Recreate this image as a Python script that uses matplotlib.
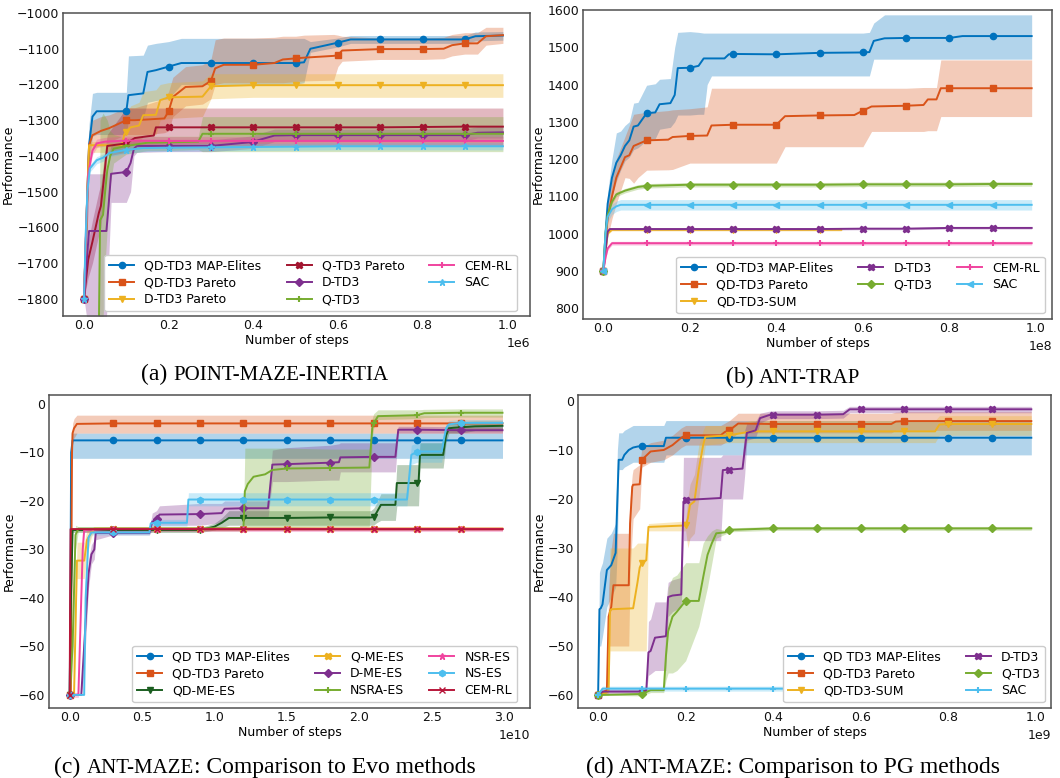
import numpy as np
import matplotlib
matplotlib.use('Agg')
import matplotlib.pyplot as plt
from matplotlib.ticker import MultipleLocator

# ---------------- colours ----------------
C_BLUE = '#0072BD'
C_ORANGE = '#D95319'
C_YELLOW = '#EDB120'
C_PURPLE = '#7E2F8E'
C_GREEN = '#77AC30'
C_LBLUE = '#4DBEEE'
C_DRED = '#A2142F'
C_PINK = '#F0449F'
C_DGREEN = '#1B5E20'
C_CRIMSON = '#B8163A'

# ---------------- panel (a): POINT-MAZE-INERTIA (x in 1e6 steps) ----------------
A_SCALE = 1e6
A_MAPE_X = [0, 0.008, 0.012, 0.02, 0.03, 0.1, 0.105, 0.14, 0.15, 0.17, 0.2, 0.23, 0.3, 0.4, 0.5, 0.52, 0.535, 0.6, 0.63, 0.7, 0.8, 0.9, 0.925, 0.99]
A_MAPE_Y = [-1800, -1500, -1370, -1290, -1275, -1275, -1230, -1225, -1165, -1160, -1150, -1140, -1140, -1140, -1140, -1138, -1100, -1083, -1074, -1074, -1074, -1074, -1065, -1063]
A_MAPE_LO = [-1800, -1600, -1420, -1345, -1340, -1340, -1300, -1295, -1250, -1245, -1240, -1200, -1200, -1200, -1200, -1195, -1110, -1095, -1085, -1085, -1085, -1085, -1078, -1076]
A_MAPE_HI = [-1800, -1400, -1310, -1225, -1222, -1222, -1120, -1118, -1090, -1085, -1080, -1071, -1071, -1071, -1071, -1071, -1080, -1070, -1063, -1063, -1063, -1063, -1053, -1052]

A_PAR_X = [0, 0.008, 0.012, 0.02, 0.04, 0.06, 0.1, 0.12, 0.15, 0.19, 0.2, 0.21, 0.24, 0.28, 0.3, 0.31, 0.33, 0.4, 0.45, 0.47, 0.5, 0.52, 0.59, 0.6, 0.61, 0.7, 0.8, 0.85, 0.87, 0.9, 0.93, 0.95, 0.99]
A_PAR_Y = [-1800, -1500, -1370, -1342, -1330, -1322, -1300, -1300, -1298, -1295, -1275, -1235, -1207, -1205, -1190, -1155, -1145, -1145, -1140, -1130, -1127, -1125, -1120, -1118, -1105, -1101, -1101, -1100, -1090, -1085, -1085, -1065, -1062]
A_PAR_LO = [-1800, -1600, -1420, -1380, -1370, -1360, -1340, -1340, -1340, -1335, -1330, -1290, -1260, -1255, -1240, -1200, -1195, -1195, -1195, -1195, -1192, -1190, -1188, -1150, -1135, -1130, -1130, -1128, -1120, -1115, -1115, -1090, -1085]
A_PAR_HI = [-1800, -1400, -1330, -1300, -1290, -1285, -1265, -1265, -1255, -1240, -1220, -1180, -1150, -1145, -1130, -1075, -1070, -1070, -1068, -1065, -1065, -1062, -1060, -1062, -1065, -1070, -1070, -1068, -1060, -1055, -1055, -1040, -1040]

A_DP_X = [0, 0.008, 0.012, 0.09, 0.095, 0.1, 0.11, 0.13, 0.14, 0.17, 0.18, 0.2, 0.28, 0.3, 0.4, 0.5, 0.6, 0.7, 0.8, 0.9, 0.99]
A_DP_Y = [-1800, -1500, -1370, -1370, -1340, -1332, -1320, -1315, -1286, -1285, -1244, -1236, -1234, -1205, -1202, -1202, -1202, -1202, -1202, -1202, -1202]
A_DP_LO = [-1800, -1600, -1390, -1390, -1380, -1375, -1370, -1365, -1345, -1340, -1300, -1295, -1290, -1240, -1236, -1236, -1236, -1236, -1236, -1236, -1236]
A_DP_HI = [-1800, -1400, -1360, -1360, -1290, -1285, -1260, -1250, -1220, -1215, -1200, -1195, -1190, -1170, -1170, -1170, -1170, -1170, -1170, -1170, -1170]

A_QP_X = [0, 0.01, 0.02, 0.035, 0.04, 0.05, 0.055, 0.1, 0.12, 0.15, 0.165, 0.17, 0.2, 0.3, 0.4, 0.5, 0.6, 0.7, 0.8, 0.9, 0.99]
A_QP_Y = [-1800, -1690, -1640, -1560, -1540, -1430, -1372, -1365, -1350, -1345, -1343, -1320, -1320, -1320, -1320, -1320, -1320, -1320, -1319, -1318, -1318]
A_QP_LO = [-1800, -1740, -1700, -1620, -1600, -1480, -1400, -1390, -1380, -1378, -1376, -1373, -1373, -1373, -1373, -1373, -1373, -1373, -1373, -1373, -1373]
A_QP_HI = [-1800, -1640, -1580, -1500, -1480, -1380, -1340, -1266, -1266, -1266, -1266, -1266, -1266, -1266, -1266, -1266, -1266, -1266, -1266, -1266, -1266]

A_D_X = [0, 0.006, 0.012, 0.053, 0.058, 0.064, 0.1, 0.11, 0.118, 0.125, 0.2, 0.3, 0.39, 0.4, 0.45, 0.5, 0.6, 0.7, 0.8, 0.9, 0.93, 0.99]
A_D_Y = [-1800, -1700, -1610, -1610, -1540, -1450, -1445, -1420, -1380, -1372, -1372, -1372, -1362, -1360, -1343, -1342, -1342, -1342, -1342, -1342, -1335, -1334]
A_D_LO = [-1800, -1850, -1860, -1860, -1700, -1530, -1530, -1500, -1400, -1390, -1388, -1388, -1380, -1378, -1360, -1358, -1358, -1358, -1358, -1358, -1350, -1350]
A_D_HI = [-1800, -1600, -1450, -1450, -1400, -1370, -1360, -1360, -1355, -1355, -1355, -1355, -1345, -1342, -1325, -1325, -1325, -1325, -1325, -1325, -1318, -1318]

A_Q_X = [0, 0.035, 0.038, 0.045, 0.05, 0.055, 0.062, 0.07, 0.1, 0.15, 0.2, 0.27, 0.28, 0.3, 0.4, 0.5, 0.6, 0.7, 0.8, 0.9, 0.99]
A_Q_Y = [-1900, -1900, -1580, -1565, -1500, -1440, -1400, -1380, -1372, -1363, -1362, -1360, -1338, -1338, -1338, -1338, -1338, -1338, -1338, -1338, -1338]
A_Q_LO = [-1950, -1950, -1860, -1860, -1700, -1600, -1480, -1420, -1395, -1385, -1385, -1382, -1388, -1388, -1388, -1388, -1388, -1388, -1388, -1388, -1388]
A_Q_HI = [-1850, -1850, -1300, -1280, -1290, -1300, -1330, -1340, -1350, -1345, -1345, -1345, -1290, -1290, -1290, -1290, -1290, -1290, -1290, -1290, -1290]

A_CEM_X = [0, 0.005, 0.01, 0.02, 0.03, 0.05, 0.1, 0.2, 0.3, 0.4, 0.5, 0.6, 0.7, 0.8, 0.9, 0.99]
A_CEM_Y = [-1800, -1600, -1450, -1385, -1365, -1360, -1357, -1358, -1358, -1358, -1358, -1358, -1358, -1358, -1358, -1358]
A_CEM_W = 12

A_SAC_X = [0, 0.004, 0.008, 0.014, 0.03, 0.045, 0.06, 0.1, 0.14, 0.2, 0.3, 0.4, 0.5, 0.6, 0.7, 0.8, 0.9, 0.99]
A_SAC_Y = [-1800, -1620, -1500, -1435, -1412, -1405, -1392, -1383, -1378, -1377, -1376, -1375, -1374, -1373, -1373, -1373, -1373, -1373]
A_SAC_W = 10

# ---------------- panel (b): ANT-TRAP (x in 1e8 steps) ----------------
B_SCALE = 1e8
B_MAPE_X = [0, 0.005, 0.01, 0.02, 0.03, 0.04, 0.05, 0.06, 0.07, 0.08, 0.1, 0.12, 0.13, 0.155, 0.165, 0.172, 0.2, 0.22, 0.232, 0.24, 0.25, 0.28, 0.29, 0.3, 0.4, 0.5, 0.6, 0.615, 0.625, 0.65, 0.7, 0.8, 0.83, 0.9, 0.99]
B_MAPE_Y = [900, 1000, 1080, 1150, 1190, 1210, 1235, 1250, 1287, 1290, 1323, 1325, 1347, 1350, 1372, 1444, 1445, 1450, 1470, 1470, 1470, 1470, 1481, 1482, 1481, 1485, 1486, 1487, 1517, 1524, 1525, 1525, 1530, 1530, 1530]
B_MAPE_LO = [900, 960, 1040, 1100, 1140, 1170, 1195, 1205, 1225, 1230, 1250, 1255, 1280, 1285, 1300, 1318, 1318, 1320, 1320, 1400, 1423, 1423, 1423, 1423, 1423, 1423, 1423, 1423, 1468, 1468, 1468, 1468, 1468, 1468, 1468]
B_MAPE_HI = [900, 1040, 1110, 1200, 1270, 1275, 1290, 1300, 1350, 1352, 1398, 1402, 1414, 1416, 1500, 1540, 1542, 1540, 1538, 1538, 1538, 1538, 1538, 1538, 1538, 1538, 1538, 1540, 1565, 1587, 1587, 1587, 1587, 1587, 1587]

B_PAR_X = [0, 0.005, 0.01, 0.02, 0.03, 0.05, 0.06, 0.07, 0.08, 0.1, 0.15, 0.16, 0.2, 0.24, 0.25, 0.3, 0.4, 0.42, 0.5, 0.58, 0.6, 0.62, 0.7, 0.74, 0.75, 0.77, 0.78, 0.8, 0.9, 0.99]
B_PAR_Y = [900, 980, 1040, 1100, 1150, 1205, 1210, 1235, 1240, 1250, 1252, 1259, 1262, 1263, 1290, 1292, 1292, 1315, 1317, 1318, 1330, 1341, 1343, 1345, 1360, 1360, 1390, 1390, 1390, 1390]
B_PAR_LO = [900, 950, 990, 1040, 1080, 1150, 1148, 1135, 1150, 1170, 1171, 1172, 1189, 1189, 1189, 1189, 1189, 1233, 1233, 1233, 1233, 1274, 1274, 1274, 1276, 1276, 1314, 1314, 1314, 1314]
B_PAR_HI = [900, 1010, 1080, 1150, 1200, 1260, 1290, 1320, 1322, 1325, 1330, 1332, 1335, 1340, 1390, 1390, 1390, 1390, 1390, 1390, 1390, 1390, 1390, 1392, 1392, 1392, 1466, 1466, 1466, 1466]

B_SUM_X = [0, 0.01, 0.02, 0.1, 0.2, 0.3, 0.4, 0.5, 0.55]
B_SUM_Y = [900, 1000, 1010, 1010, 1010, 1010, 1010, 1010, 1010]
B_SUM_W = 3

B_D_X = [0, 0.01, 0.015, 0.1, 0.2, 0.3, 0.4, 0.5, 0.6, 0.7, 0.8, 0.9, 0.99]
B_D_Y = [900, 1005, 1012, 1012, 1012, 1012, 1012, 1012, 1013, 1013, 1015, 1015, 1015]
B_D_W = 3

B_Q_X = [0, 0.005, 0.01, 0.02, 0.03, 0.05, 0.08, 0.1, 0.2, 0.3, 0.4, 0.5, 0.6, 0.7, 0.8, 0.9, 0.99]
B_Q_Y = [900, 1000, 1050, 1085, 1105, 1115, 1125, 1128, 1131, 1131, 1131, 1131, 1132, 1132, 1132, 1133, 1133]
B_Q_W = 6

B_CEM_X = [0, 0.005, 0.01, 0.02, 0.1, 0.2, 0.3, 0.4, 0.5, 0.6, 0.7, 0.8, 0.9, 0.99]
B_CEM_Y = [900, 935, 960, 974, 974, 974, 974, 974, 974, 974, 974, 974, 974, 974]
B_CEM_W = 5

B_SAC_X = [0, 0.005, 0.01, 0.02, 0.03, 0.04, 0.1, 0.2, 0.3, 0.4, 0.5, 0.6, 0.7, 0.8, 0.9, 0.99]
B_SAC_Y = [900, 1000, 1045, 1065, 1073, 1077, 1077, 1077, 1077, 1077, 1077, 1077, 1077, 1077, 1077, 1077]
B_SAC_W = 14

# ---------------- panel (c): ANT-MAZE vs Evo methods (x in 1e10 steps) ----------------
C_SCALE = 1e10
C_MAPE_X = [0, 0.005, 0.01, 0.02, 0.3, 0.6, 0.9, 1.2, 1.5, 1.8, 2.1, 2.4, 2.7, 2.99]
C_MAPE_Y = [-60, -40, -10, -7.5, -7.5, -7.5, -7.5, -7.5, -7.5, -7.5, -7.5, -7.5, -7.5, -7.5]
C_MAPE_LO = [-60, -45, -14, -11.2, -11.2, -11.2, -11.2, -11.2, -11.2, -11.2, -11.2, -11.2, -11.2, -11.2]
C_MAPE_HI = [-60, -35, -6, -6, -6, -6, -6, -6, -6, -6, -6, -6, -6, -6]

C_PAR_X = [0, 0.008, 0.012, 0.016, 0.02, 0.03, 0.05, 0.3, 0.6, 0.9, 1.2, 1.5, 1.8, 2.1, 2.4, 2.7, 2.99]
C_PAR_Y = [-60, -60, -30, -10, -6, -5, -4.1, -4, -4, -4, -4, -4, -4, -4, -4, -4, -4]
C_PAR_LO = [-60, -60, -33, -12, -8, -7, -6, -6, -6, -6, -6, -6, -6, -6, -6, -6, -6]
C_PAR_HI = [-60, -60, -27, -8, -4, -3, -2.3, -2.3, -2.3, -2.3, -2.3, -2.3, -2.3, -2.3, -2.3, -2.3, -2.3]

C_QDME_X = [0, 0.005, 0.02, 0.3, 0.6, 0.9, 1.0, 1.05, 1.1, 1.2, 1.5, 1.8, 2.08, 2.1, 2.12, 2.15, 2.25, 2.26, 2.4, 2.41, 2.42, 2.58, 2.6, 2.62, 2.65, 2.7, 2.8, 2.99]
C_QDME_Y = [-60, -45, -26, -26, -26, -26, -25.3, -24.5, -23.5, -23.5, -23.5, -23.4, -23.4, -23.3, -22.4, -20.8, -20.8, -16.3, -16.3, -16.2, -10.5, -10.5, -6.5, -5, -4.9, -4.8, -4.6, -4.5]
C_QDME_LO = [-60, -48, -26.5, -26.5, -26.5, -26.5, -26, -25.5, -25, -25, -25, -25, -25, -25, -24.5, -24, -24, -21, -21, -21, -13.2, -13.2, -8, -6, -6, -6, -5.5, -5.5]
C_QDME_HI = [-60, -42, -25.5, -25.5, -25.5, -25.5, -24.6, -23.5, -22, -22, -22, -22, -22, -21.5, -20.5, -18.5, -18.5, -12.5, -12.5, -12.5, -8, -8, -4.5, -3.8, -3.8, -3.6, -3.5, -3.5]

C_QME_X = [0, 0.03, 0.05, 0.1, 0.12, 0.15, 0.17, 0.3, 0.6, 0.9, 1.2, 1.5, 1.8, 2.1, 2.4, 2.7, 2.99]
C_QME_Y = [-60, -60, -32.3, -32.3, -28, -26.5, -25.7, -25.7, -25.7, -25.7, -25.7, -25.7, -25.7, -25.7, -25.7, -25.7, -25.7]
C_QME_LO = [-60, -60, -36, -36, -31, -27.5, -26, -26, -26, -26, -26, -26, -26, -26, -26, -26, -26]
C_QME_HI = [-60, -60, -28.5, -28.5, -26, -25.5, -25.4, -25.4, -25.4, -25.4, -25.4, -25.4, -25.4, -25.4, -25.4, -25.4, -25.4]

C_DME_X = [0, 0.08, 0.1, 0.13, 0.15, 0.17, 0.18, 0.3, 0.55, 0.57, 0.6, 0.62, 0.9, 1.05, 1.07, 1.2, 1.37, 1.4, 1.5, 1.8, 1.86, 1.87, 2.1, 2.25, 2.27, 2.4, 2.7, 2.99]
C_DME_Y = [-60, -60, -50, -35, -31, -30, -26.6, -26.6, -26.6, -24.3, -23.8, -22.8, -22.7, -22.5, -21.6, -21.5, -21.5, -12.5, -12.4, -12.1, -12, -11, -10.9, -10.9, -5.3, -5.3, -5.4, -5.4]
C_DME_LO = [-60, -60, -55, -38, -33, -32, -28, -27, -27, -26, -25.5, -25, -25, -24.5, -23.5, -23.5, -23.5, -16, -16, -15.7, -15.7, -14, -14, -14, -6, -6, -6, -6]
C_DME_HI = [-60, -60, -45, -32, -29, -28, -25.5, -26, -26, -22.5, -22, -21, -20.5, -20.5, -20, -20, -20, -9.5, -9, -8.5, -8.2, -8, -8, -8, -4.6, -4.6, -4.7, -4.7]

C_NSRA_X = [0, 0.02, 0.04, 0.06, 0.3, 0.6, 0.9, 1.2, 1.21, 1.23, 1.27, 1.35, 1.4, 1.5, 1.8, 2.07, 2.09, 2.1, 2.13, 2.4, 2.45, 2.7, 2.99]
C_NSRA_Y = [-60, -50, -27, -25.7, -25.7, -25.7, -25.7, -25.7, -18, -16.5, -15, -14.5, -13.6, -13.3, -13.2, -13.1, -5, -4, -2.5, -2.3, -1.9, -1.8, -1.8]
C_NSRA_LO = [-60, -55, -30, -26.2, -26.2, -26.2, -26.2, -26.2, -25.5, -25.5, -25.5, -25.5, -25.5, -25.5, -25.3, -25.3, -7, -5, -3.2, -3, -2.8, -2.7, -2.7]
C_NSRA_HI = [-60, -45, -25, -25.3, -25.3, -25.3, -25.3, -25.3, -9.1, -9.1, -9.1, -9.1, -9.1, -9.1, -9.3, -9.3, -3, -2, -1.2, -1.2, -1.1, -1, -1]

C_NSR_X = [0, 0.06, 0.09, 0.1, 0.3, 0.6, 0.9, 1.2, 1.5, 1.8, 2.1, 2.4, 2.7, 2.99]
C_NSR_Y = [-60, -60, -30, -26, -25.8, -25.8, -25.8, -25.8, -25.8, -25.8, -25.8, -25.8, -25.8, -25.8]
C_NSR_W = 0.5

C_NS_X = [0, 0.1, 0.11, 0.13, 0.15, 0.3, 0.55, 0.56, 0.6, 0.81, 0.82, 0.9, 1.2, 1.5, 1.8, 2.1, 2.33, 2.36, 2.4, 2.57, 2.6, 2.62, 2.7, 2.99]
C_NS_Y = [-60, -60, -40, -27.5, -26.5, -26.5, -26.5, -24.6, -24.5, -24.5, -19.7, -19.7, -19.7, -19.7, -19.7, -19.7, -19.7, -10.5, -9.8, -9.8, -5, -4.2, -3.9, -3.9]
C_NS_LO = [-60, -60, -42, -28.5, -27, -27, -27, -25.2, -25.2, -25.2, -21, -21, -21, -21, -21, -21, -21, -12.5, -12, -12, -6, -5, -4.8, -4.8]
C_NS_HI = [-60, -60, -38, -26.5, -26, -26, -26, -23.8, -23.8, -23.8, -18.3, -18.3, -18.3, -18.3, -18.3, -18.3, -18.3, -8.5, -8, -8, -4, -3.4, -3.2, -3.2]

C_CEM_X = [0, 0.003, 0.006, 0.3, 0.6, 0.9, 1.2, 1.5, 1.8, 2.1, 2.4, 2.7, 2.99]
C_CEM_Y = [-60, -40, -25.8, -25.8, -25.8, -25.8, -25.8, -25.8, -25.8, -25.8, -25.8, -25.8, -25.8]
C_CEM_W = 0.3

# ---------------- panel (d): ANT-MAZE vs PG methods (x in 1e9 steps) ----------------
D_SCALE = 1e9
D_MAPE_X = [0, 0.003, 0.006, 0.01, 0.02, 0.03, 0.04, 0.044, 0.047, 0.055, 0.06, 0.07, 0.08, 0.09, 0.1, 0.15, 0.155, 0.2, 0.3, 0.4, 0.5, 0.6, 0.7, 0.8, 0.9, 0.99]
D_MAPE_Y = [-60, -42.5, -42.3, -41.5, -34.5, -33.5, -31, -20, -12, -12, -11, -10, -9.5, -9.3, -9.2, -9.2, -7.5, -7.5, -7.5, -7.5, -7.5, -7.5, -7.5, -7.5, -7.5, -7.5]
D_MAPE_LO = [-60, -50, -50, -48, -42, -40, -38, -30, -14, -14, -13.5, -13, -12.5, -12.5, -12.5, -12.5, -11, -11, -11, -11, -11, -11, -11, -11, -11, -11]
D_MAPE_HI = [-60, -35, -34, -33, -28, -27, -25, -10, -6.5, -6.5, -6, -5.5, -5, -5, -5, -5, -4, -4, -4, -4, -4, -4, -4, -4, -4, -4]

D_PAR_X = [0, 0.02, 0.024, 0.03, 0.035, 0.07, 0.073, 0.078, 0.08, 0.095, 0.1, 0.12, 0.15, 0.17, 0.19, 0.2, 0.22, 0.28, 0.29, 0.3, 0.32, 0.4, 0.5, 0.6, 0.67, 0.68, 0.7, 0.8, 0.9, 0.99]
D_PAR_Y = [-60, -59, -44, -42, -37.6, -37.6, -25, -17.5, -17.1, -17, -12, -10.3, -10, -9, -7.5, -7, -7, -7, -6.3, -6, -4.6, -4.7, -4.7, -4.7, -4.7, -4.2, -4.1, -4.1, -4.1, -4.1]
D_PAR_LO = [-60, -59.5, -50, -50, -50, -50, -35, -27, -24, -22, -13.5, -12.5, -12, -11, -9.5, -9, -9, -9, -8.5, -8, -6.5, -6.5, -6.5, -6.5, -6.5, -6, -6, -6, -6, -6]
D_PAR_HI = [-60, -58.5, -38, -30, -27, -27, -20, -15, -14, -13, -9.5, -8.5, -8, -7, -5.5, -5, -5, -5, -4.5, -4, -2.5, -2.5, -2.5, -2.5, -2.5, -2.3, -2.2, -2.2, -2.2, -2.2]

D_SUM_X = [0, 0.02, 0.024, 0.027, 0.03, 0.08, 0.09, 0.095, 0.1, 0.11, 0.115, 0.2, 0.205, 0.21, 0.22, 0.23, 0.24, 0.245, 0.3, 0.35, 0.4, 0.5, 0.6, 0.7, 0.77, 0.78, 0.8, 0.9, 0.99]
D_SUM_Y = [-60, -59.5, -59, -43, -42.5, -42.3, -37, -34, -33, -32.5, -25.7, -25.4, -24, -21.2, -20.5, -14, -9, -7.3, -7, -6.2, -6.2, -6.2, -6.2, -6.2, -6.2, -4.8, -4.7, -4.7, -4.7]
D_SUM_LO = [-60, -60, -60, -51, -51, -51, -51, -51, -51, -51, -26.5, -26.5, -30, -28, -27, -20, -12, -9, -8.5, -8.5, -8.5, -8.5, -8.5, -8.5, -8.5, -7, -7, -7, -7]
D_SUM_HI = [-60, -59, -58, -30, -30, -30, -29, -29, -29, -29, -25, -24.5, -20, -17, -15, -9, -6, -5, -5, -4, -4, -4, -4, -4, -4, -3, -3, -3, -3]

D_D_X = [0, 0.01, 0.1, 0.11, 0.115, 0.12, 0.13, 0.155, 0.16, 0.17, 0.19, 0.195, 0.2, 0.28, 0.285, 0.3, 0.33, 0.335, 0.34, 0.36, 0.37, 0.39, 0.4, 0.5, 0.56, 0.575, 0.6, 0.7, 0.8, 0.9, 0.99]
D_D_Y = [-60, -59.3, -59.3, -59.2, -51.3, -51, -48.3, -48, -40, -39.7, -39.5, -20.5, -20.2, -19.8, -14.1, -14, -13.8, -10, -6.5, -6, -3.5, -2.9, -2.8, -2.8, -2.7, -1.7, -1.7, -1.7, -1.7, -1.7, -1.7]
D_D_LO = [-60, -59.8, -59.8, -59.7, -56, -55.7, -55, -55, -44, -43, -42, -28.5, -28.5, -28.5, -20, -20, -20, -15, -8, -7.5, -4.5, -3.7, -3.6, -3.6, -3.5, -2.4, -2.4, -2.4, -2.4, -2.4, -2.4]
D_D_HI = [-60, -58.8, -58.8, -58.7, -45, -44.5, -41, -41, -37, -36.5, -36, -11.5, -11.5, -11.5, -11, -11, -11, -6, -4.5, -4.2, -2.5, -2.1, -2, -2, -1.9, -1.1, -1.1, -1.1, -1.1, -1.1, -1.1]

D_Q_X = [0, 0.1, 0.12, 0.15, 0.155, 0.16, 0.17, 0.18, 0.2, 0.23, 0.24, 0.25, 0.26, 0.27, 0.29, 0.3, 0.4, 0.5, 0.6, 0.7, 0.8, 0.9, 0.99]
D_Q_Y = [-60, -59.8, -59, -59, -52, -47, -44, -43, -40.8, -40.8, -36, -31.4, -29, -27, -26.8, -26.3, -26, -26, -26, -26, -26, -26, -26]
D_Q_LO = [-60, -60.2, -59.5, -59.5, -57, -55.5, -55.5, -55, -53, -46, -42, -38, -33, -28, -27.2, -26.7, -26.4, -26.4, -26.4, -26.4, -26.4, -26.4, -26.4]
D_Q_HI = [-60, -59.4, -58.5, -58.5, -45, -38, -36, -35.5, -33, -33, -29, -27.5, -26.5, -26, -26.4, -25.9, -25.6, -25.6, -25.6, -25.6, -25.6, -25.6, -25.6]

D_SAC_X = [0, 0.01, 0.1, 0.2, 0.3, 0.4, 0.5, 0.6, 0.7, 0.8, 0.9, 0.99]
D_SAC_Y = [-60, -58.7, -58.7, -58.7, -58.7, -58.7, -58.7, -58.7, -58.7, -58.7, -58.7, -58.7]
D_SAC_W = 0.5

# ---------------- figure ----------------
W, H = 1060, 778
plt.rcParams['font.family'] = 'DejaVu Sans'
plt.rcParams['font.size'] = 9
fig = plt.figure(figsize=(W / 100, H / 100), dpi=100)

SPINE = '#505050'
FS = 9


def add_ax(l, t, r, b):
    ax = fig.add_axes([l / W, 1 - b / H, (r - l) / W, (b - t) / H])
    for s in ax.spines.values():
        s.set_color(SPINE)
        s.set_linewidth(1.1)
    ax.tick_params(length=0, pad=2.5, labelsize=FS, colors='#111111')
    ax.set_ylabel('Performance', fontsize=FS, labelpad=2)
    ax.set_xlabel('Number of steps', fontsize=FS, labelpad=1)
    ax.xaxis.get_offset_text().set_fontsize(FS)
    return ax


def series(ax, scale, step, x, y, color, marker, label, lo=None, hi=None, w=None, ms=4.5, mew=1.0):
    xa = np.asarray(x, float)
    ya = np.asarray(y, float)
    if w is not None:
        lo_a, hi_a = ya - w, ya + w
    else:
        lo_a, hi_a = np.asarray(lo, float), np.asarray(hi, float)
    ax.fill_between(xa * scale, lo_a, hi_a, color=color, alpha=0.3, linewidth=0)
    k = xa / step
    idx = np.where(np.isclose(k, np.round(k)))[0].tolist()
    ax.plot(xa * scale, ya, color=color, lw=1.4, marker=marker, ms=ms, mew=mew,
            markevery=idx, label=label)


def legend(ax, ncol, ax_x, ax_y):
    ax.legend(ncol=ncol, loc='lower right', bbox_to_anchor=(ax_x, ax_y), borderaxespad=0,
              fontsize=FS, labelspacing=0.3, handlelength=2.0, columnspacing=2.0,
              framealpha=1.0, edgecolor='0.8', fancybox=True)


# ---- (a)
ax = add_ax(63, 13, 530, 316)
sa = 0.1
series(ax, A_SCALE, sa, A_MAPE_X, A_MAPE_Y, C_BLUE, 'o', 'QD-TD3 MAP-Elites', A_MAPE_LO, A_MAPE_HI)
series(ax, A_SCALE, sa, A_PAR_X, A_PAR_Y, C_ORANGE, 's', 'QD-TD3 Pareto', A_PAR_LO, A_PAR_HI)
series(ax, A_SCALE, sa, A_DP_X, A_DP_Y, C_YELLOW, 'v', 'D-TD3 Pareto', A_DP_LO, A_DP_HI)
series(ax, A_SCALE, sa, A_QP_X, A_QP_Y, C_DRED, 'X', 'Q-TD3 Pareto', A_QP_LO, A_QP_HI)
series(ax, A_SCALE, sa, A_D_X, A_D_Y, C_PURPLE, 'D', 'D-TD3', A_D_LO, A_D_HI)
series(ax, A_SCALE, sa, A_Q_X, A_Q_Y, C_GREEN, '+', 'Q-TD3', A_Q_LO, A_Q_HI, mew=1.5)
series(ax, A_SCALE, sa, A_CEM_X, A_CEM_Y, C_PINK, '+', 'CEM-RL', w=A_CEM_W, mew=1.5)
series(ax, A_SCALE, sa, A_SAC_X, A_SAC_Y, C_LBLUE, '*', 'SAC', w=A_SAC_W)
ax.set_xlim(-0.0496 * A_SCALE, 1.054 * A_SCALE)
ax.set_ylim(-1848, -1000)
ax.yaxis.set_major_locator(MultipleLocator(100))
legend(ax, 3, 0.972, 0.0165)

# ---- (b)
ax = add_ax(583, 10, 1052, 319)
sb = 0.1
series(ax, B_SCALE, sb, B_MAPE_X, B_MAPE_Y, C_BLUE, 'o', 'QD-TD3 MAP-Elites', B_MAPE_LO, B_MAPE_HI)
series(ax, B_SCALE, sb, B_PAR_X, B_PAR_Y, C_ORANGE, 's', 'QD-TD3 Pareto', B_PAR_LO, B_PAR_HI)
series(ax, B_SCALE, sb, B_SUM_X, B_SUM_Y, C_YELLOW, 'v', 'QD-TD3-SUM', w=B_SUM_W)
series(ax, B_SCALE, sb, B_D_X, B_D_Y, C_PURPLE, 'X', 'D-TD3', w=B_D_W)
series(ax, B_SCALE, sb, B_Q_X, B_Q_Y, C_GREEN, 'D', 'Q-TD3', w=B_Q_W)
series(ax, B_SCALE, sb, B_CEM_X, B_CEM_Y, C_PINK, '+', 'CEM-RL', w=B_CEM_W, mew=1.5)
series(ax, B_SCALE, sb, B_SAC_X, B_SAC_Y, C_LBLUE, '<', 'SAC', w=B_SAC_W)
ax.set_xlim(-0.047 * B_SCALE, 1.037 * B_SCALE)
ax.set_ylim(770.5, 1600)
ax.yaxis.set_major_locator(MultipleLocator(100))
legend(ax, 3, 0.985, 0.019)

# ---- (c)
ax = add_ax(49, 395, 530, 708)
sc = 0.3
series(ax, C_SCALE, sc, C_MAPE_X, C_MAPE_Y, C_BLUE, 'o', 'QD TD3 MAP-Elites', C_MAPE_LO, C_MAPE_HI)
series(ax, C_SCALE, sc, C_PAR_X, C_PAR_Y, C_ORANGE, 's', 'QD-TD3 Pareto', C_PAR_LO, C_PAR_HI)
series(ax, C_SCALE, sc, C_QDME_X, C_QDME_Y, C_DGREEN, 'v', 'QD-ME-ES', C_QDME_LO, C_QDME_HI)
series(ax, C_SCALE, sc, C_QME_X, C_QME_Y, C_YELLOW, 'X', 'Q-ME-ES', C_QME_LO, C_QME_HI)
series(ax, C_SCALE, sc, C_DME_X, C_DME_Y, C_PURPLE, 'D', 'D-ME-ES', C_DME_LO, C_DME_HI)
series(ax, C_SCALE, sc, C_NSRA_X, C_NSRA_Y, C_GREEN, '+', 'NSRA-ES', C_NSRA_LO, C_NSRA_HI, mew=1.5)
series(ax, C_SCALE, sc, C_NSR_X, C_NSR_Y, C_PINK, '*', 'NSR-ES', w=C_NSR_W)
series(ax, C_SCALE, sc, C_NS_X, C_NS_Y, C_LBLUE, 'h', 'NS-ES', C_NS_LO, C_NS_HI)
series(ax, C_SCALE, sc, C_CEM_X, C_CEM_Y, C_CRIMSON, 'x', 'CEM-RL', w=C_CEM_W)
ax.set_xlim(-0.143 * C_SCALE, 3.18 * C_SCALE)
ax.set_ylim(-62.7, 1.86)
ax.yaxis.set_major_locator(MultipleLocator(10))
legend(ax, 3, 0.973, 0.019)

# ---- (d)
ax = add_ax(578, 395, 1051, 708)
sd = 0.1
series(ax, D_SCALE, sd, D_MAPE_X, D_MAPE_Y, C_BLUE, 'o', 'QD TD3 MAP-Elites', D_MAPE_LO, D_MAPE_HI)
series(ax, D_SCALE, sd, D_PAR_X, D_PAR_Y, C_ORANGE, 's', 'QD-TD3 Pareto', D_PAR_LO, D_PAR_HI)
series(ax, D_SCALE, sd, D_SUM_X, D_SUM_Y, C_YELLOW, 'v', 'QD-TD3-SUM', D_SUM_LO, D_SUM_HI)
series(ax, D_SCALE, sd, D_D_X, D_D_Y, C_PURPLE, 'X', 'D-TD3', D_D_LO, D_D_HI)
series(ax, D_SCALE, sd, D_Q_X, D_Q_Y, C_GREEN, 'D', 'Q-TD3', D_Q_LO, D_Q_HI)
series(ax, D_SCALE, sd, D_SAC_X, D_SAC_Y, C_LBLUE, '+', 'SAC', w=D_SAC_W, mew=1.5)
ax.set_xlim(-0.046 * D_SCALE, 1.035 * D_SCALE)
ax.set_ylim(-62.65, 1.22)
ax.yaxis.set_major_locator(MultipleLocator(10))
legend(ax, 2, 0.987, 0.019)

# ---------------- captions (small caps emulated) ----------------
SERIF = 'Liberation Serif'
CAP_BIG = 17.0
CAP_SMALL = 15.0
renderer = fig.canvas.get_renderer()


def caption(xc, yb, parts):
    texts = [fig.text(0, 0, s, fontsize=sz, family=SERIF, va='baseline', ha='left')
             for s, sz in parts]
    widths = [t.get_window_extent(renderer).width for t in texts]
    x = xc - sum(widths) / 2
    for t, wd in zip(texts, widths):
        t.set_position((x / W, 1 - yb / H))
        x += wd


caption(265, 380, [('(a) ', CAP_BIG), ('POINT-MAZE-INERTIA', CAP_SMALL)])
caption(793, 383, [('(b) ', CAP_BIG), ('ANT-TRAP', CAP_SMALL)])
caption(265, 773, [('(c) ', CAP_BIG), ('ANT-MAZE', CAP_SMALL), (': Comparison to Evo methods', CAP_BIG)])
caption(793, 773, [('(d) ', CAP_BIG), ('ANT-MAZE', CAP_SMALL), (': Comparison to PG methods', CAP_BIG)])

fig.savefig('out.png', dpi=100)
